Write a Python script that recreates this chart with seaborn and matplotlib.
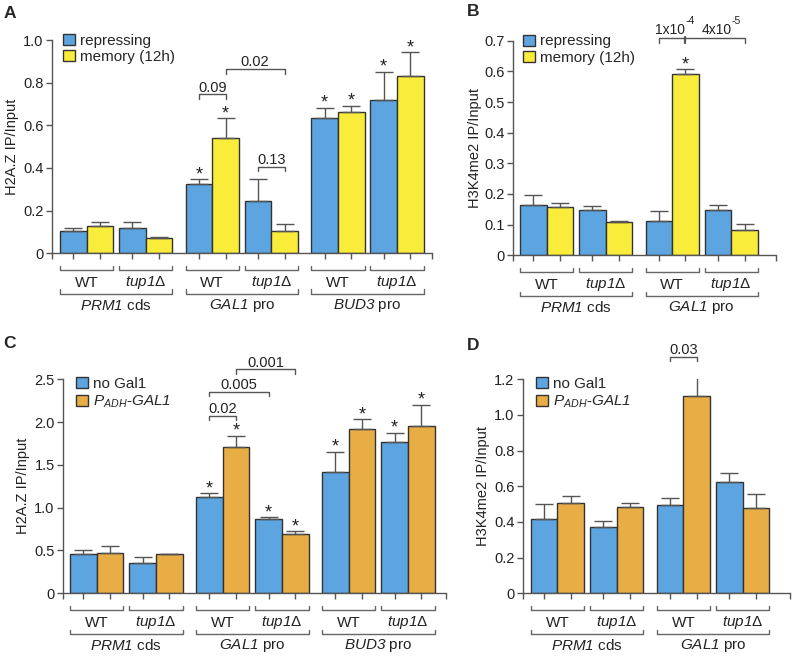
import numpy as np
import pandas as pd
import matplotlib
matplotlib.use('Agg')
import matplotlib.pyplot as plt
import seaborn as sns
from matplotlib.patches import Patch
from matplotlib.ticker import FuncFormatter

sns.set_style('ticks')
plt.rcParams['font.family'] = ['Liberation Sans', 'DejaVu Sans']
plt.rcParams['mathtext.fontset'] = 'custom'
plt.rcParams['mathtext.rm'] = 'Liberation Sans'
plt.rcParams['mathtext.it'] = 'Liberation Sans:italic'
plt.rcParams['mathtext.sf'] = 'Liberation Sans:italic'   # used for gene names (italic digits too)
plt.rcParams['mathtext.bf'] = 'Liberation Sans:bold'

blue = '#5DA5E0'
yellow = '#F9EC3A'
orange = '#E9AD46'
edge = '#333333'
grey = '#555555'

# ---- data ----
strains = ['WT', r'$\mathsf{tup1}$Δ']
loci_a = [r'$\mathsf{PRM1}$ cds', r'$\mathsf{GAL1}$ pro', r'$\mathsf{BUD3}$ pro']
loci_b = [r'$\mathsf{PRM1}$ cds', r'$\mathsf{GAL1}$ pro']

a_rep = [0.103, 0.120, 0.323, 0.247, 0.633, 0.719]
a_rep_top = [0.120, 0.145, 0.347, 0.347, 0.683, 0.852]
a_mem = [0.127, 0.070, 0.539, 0.105, 0.664, 0.833]
a_mem_top = [0.145, 0.078, 0.633, 0.136, 0.691, 0.942]

b_rep = [0.163, 0.148, 0.113, 0.148]
b_rep_top = [0.198, 0.161, 0.145, 0.165]
b_mem = [0.159, 0.107, 0.593, 0.083]
b_mem_top = [0.169, 0.113, 0.607, 0.102]

c_no = [0.459, 0.350, 1.125, 0.864, 1.413, 1.764]
c_no_top = [0.506, 0.424, 1.168, 0.888, 1.651, 1.877]
c_adh = [0.475, 0.459, 1.706, 0.689, 1.916, 1.955]
c_adh_top = [0.549, 0.462, 1.838, 0.724, 2.033, 2.200]

d_no = [0.417, 0.372, 0.495, 0.626]
d_no_top = [0.501, 0.404, 0.535, 0.673]
d_adh = [0.507, 0.482, 1.107, 0.477]
d_adh_top = [0.548, 0.505, 1.282, 0.559]

# stars: (subgroup index, which bar 0/1)
a_stars = [(2, 0), (2, 1), (4, 0), (4, 1), (5, 0), (5, 1)]
b_stars = [(2, 1)]
c_stars = [(2, 0), (2, 1), (3, 0), (3, 1), (4, 0), (4, 1), (5, 0), (5, 1)]
d_stars = []

leg_ab = ['repressing', 'memory (12h)']
leg_cd = ['no Gal1', r'$\mathsf{P}_{\mathsf{ADH}}$-$\mathsf{GAL1}$']


def left_edge(i):
    return (i // 2) * 4.72 + (i % 2) * 2.22


def centers(n):
    lefts = np.array([left_edge(i) for i in range(n)])
    return lefts + 0.5, lefts + 1.5


def panel(ax, v1, t1, v2, t2, c1, c2, names, loci, ylim, yticks, xlim, stars, ylabel, ylabelpad):
    n = len(v1)
    x1, x2 = centers(n)
    df = pd.DataFrame({
        'pos': np.concatenate([x1, x2]),
        'value': v1 + v2,
        'cond': [names[0]] * n + [names[1]] * n,
    })
    sns.barplot(data=df, x='pos', y='value', hue='cond', hue_order=names,
                palette={names[0]: c1, names[1]: c2}, native_scale=True, dodge=False,
                width=1.0, saturation=1, edgecolor=edge, linewidth=1.0, errorbar=None,
                legend=False, ax=ax)
    allx = np.concatenate([x1, x2])
    val = np.array(v1 + v2)
    top = np.array(t1 + t2)
    ax.errorbar(allx, val, yerr=[np.zeros_like(val), top - val], fmt='none',
                ecolor=grey, elinewidth=1.0, capsize=6.3, capthick=1.0, zorder=1)
    for i, b in stars:
        xx = x1[i] if b == 0 else x2[i]
        tt = t1[i] if b == 0 else t2[i]
        ax.annotate('*', (xx, tt), xytext=(0, 0), textcoords='offset points',
                    ha='center', va='baseline', fontsize=13, color='#222')

    ax.set_xlim(*xlim)
    ax.set_ylim(*ylim)
    ax.set_yticks(yticks)
    ax.yaxis.set_major_formatter(FuncFormatter(lambda v, p: '0' if v == 0 else '%.1f' % v))
    ax.set_xticks(list(allx) + [xlim[0], xlim[1]])
    ax.set_xticklabels([])
    ax.tick_params(axis='both', direction='out', length=4, width=1, color='#555',
                   labelsize=10.5, labelcolor='#222', pad=2)
    ax.set_xlabel('')
    ax.set_ylabel(ylabel, fontsize=10.5, labelpad=ylabelpad, color='#222')
    for s in ['top', 'right']:
        ax.spines[s].set_visible(False)
    for s in ['left', 'bottom']:
        ax.spines[s].set_color('#555')
        ax.spines[s].set_linewidth(1.0)

    # hierarchical labels under the axis
    tr = ax.get_xaxis_transform()
    for i in range(n):
        l = left_edge(i)
        r = l + 2
        ax.plot([l, l, r, r], [-0.058, -0.077, -0.077, -0.058], transform=tr,
                color='#666', lw=1, clip_on=False)
        ax.text(l + 1, -0.138, strains[i % 2], transform=tr, ha='center', va='center',
                fontsize=11, color='#222')
    for g in range(n // 2):
        l = left_edge(2 * g)
        r = left_edge(2 * g + 1) + 2
        ax.plot([l, l, r, r], [-0.17, -0.19, -0.19, -0.17], transform=tr,
                color='#666', lw=1, clip_on=False)
        ax.text((l + r) / 2, -0.245, loci[g], transform=tr, ha='center', va='center',
                fontsize=11, color='#222')

    hs = [Patch(facecolor=c1, edgecolor=edge, lw=1), Patch(facecolor=c2, edgecolor=edge, lw=1)]
    return x1, x2, hs


def bracket(ax, xa, xb, y, h, text, fs=10.5):
    ax.plot([xa, xa, xb, xb], [y - h, y, y, y - h], color=grey, lw=1, clip_on=False)
    ax.annotate(text, ((xa + xb) / 2, y), xytext=(0, 2), textcoords='offset points',
                ha='center', va='baseline', fontsize=fs, color='#222', annotation_clip=False)


def add_legend(ax, hs, labels, x, y):
    ax.legend(hs, labels, loc='upper left', bbox_to_anchor=(x, y), frameon=False, fontsize=11,
              handlelength=0.75, handleheight=0.75, handletextpad=0.35, labelspacing=0.15,
              borderpad=0, borderaxespad=0)


fig = plt.figure(figsize=(7.92, 6.56), dpi=100)
axA = fig.add_axes([0.0657, 0.614, 0.480, 0.325])
axB = fig.add_axes([0.6477, 0.611, 0.332, 0.3267])
axC = fig.add_axes([0.0795, 0.0956, 0.4836, 0.3262])
axD = fig.add_axes([0.660, 0.0956, 0.337, 0.3262])

# A
x1, x2, hs = panel(axA, a_rep, a_rep_top, a_mem, a_mem_top, blue, yellow, leg_ab, loci_a,
                   (0, 1.0), np.arange(0, 1.01, 0.2), (-0.30, 13.98), a_stars, 'H2A.Z IP/Input', 3)
add_legend(axA, hs, leg_ab, 0.03, 1.03)
bracket(axA, x1[2], x2[2], 0.745, 0.022, '0.09')
bracket(axA, x2[2], x2[3], 0.864, 0.022, '0.02')
bracket(axA, x1[3], x2[3], 0.406, 0.022, '0.13')

# B
x1, x2, hs = panel(axB, b_rep, b_rep_top, b_mem, b_mem_top, blue, yellow, leg_ab, loci_b,
                   (0, 0.7), np.arange(0, 0.71, 0.1), (-0.26, 9.62), b_stars, 'H3K4me2 IP/Input', 1.5)
add_legend(axB, hs, leg_ab, 0.04, 1.03)
yb = 0.708
axB.plot([x1[2], x1[2], x2[3], x2[3]], [yb - 0.014, yb, yb, yb - 0.014], color=grey, lw=1, clip_on=False)
axB.plot([x2[2], x2[2]], [yb - 0.014, yb + 0.004], color=grey, lw=1.6, clip_on=False)
kw = dict(textcoords='offset points', annotation_clip=False, color='#222')
axB.annotate('1x10', (x2[2], yb), xytext=(0, 3.5), ha='right', va='baseline', fontsize=10, **kw)
axB.annotate('-4', (x2[2], yb), xytext=(0, 10.5), ha='left', va='baseline', fontsize=7.5, **kw)
axB.annotate('4x10', (x2[2], yb), xytext=(12, 3.5), ha='left', va='baseline', fontsize=10, **kw)
axB.annotate('-5', (x2[2], yb), xytext=(33, 10.5), ha='left', va='baseline', fontsize=7.5, **kw)

# C
x1, x2, hs = panel(axC, c_no, c_no_top, c_adh, c_adh_top, blue, orange, leg_cd, loci_a,
                   (0, 2.5), np.arange(0, 2.51, 0.5), (-0.26, 14.08), c_stars, 'H2A.Z IP/Input', 3)
add_legend(axC, hs, leg_cd, 0.035, 1.01)
bracket(axC, x1[2], x2[2], 2.076, 0.05, '0.02')
bracket(axC, x1[2], x1[3], 2.356, 0.05, '0.005')
bracket(axC, x2[2], x2[3], 2.617, 0.05, '0.001')

# D
x1, x2, hs = panel(axD, d_no, d_no_top, d_adh, d_adh_top, blue, orange, leg_cd, loci_b,
                   (0, 1.2), np.arange(0, 1.21, 0.2), (-0.30, 9.70), d_stars, 'H3K4me2 IP/Input', 3)
add_legend(axD, hs, leg_cd, 0.05, 1.01)
bracket(axD, x1[2], x2[2], 1.327, 0.027, '0.03')

# panel letters
fig.text(4 / 792, 1 - 14 / 656, 'A', fontsize=12.5, fontweight='bold', va='center', ha='left')
fig.text(467 / 792, 1 - 11 / 656, 'B', fontsize=12.5, fontweight='bold', va='center', ha='left')
fig.text(3 / 792, 1 - 344 / 656, 'C', fontsize=12.5, fontweight='bold', va='center', ha='left')
fig.text(467 / 792, 1 - 346 / 656, 'D', fontsize=12.5, fontweight='bold', va='center', ha='left')

fig.savefig('out.png', dpi=100)
